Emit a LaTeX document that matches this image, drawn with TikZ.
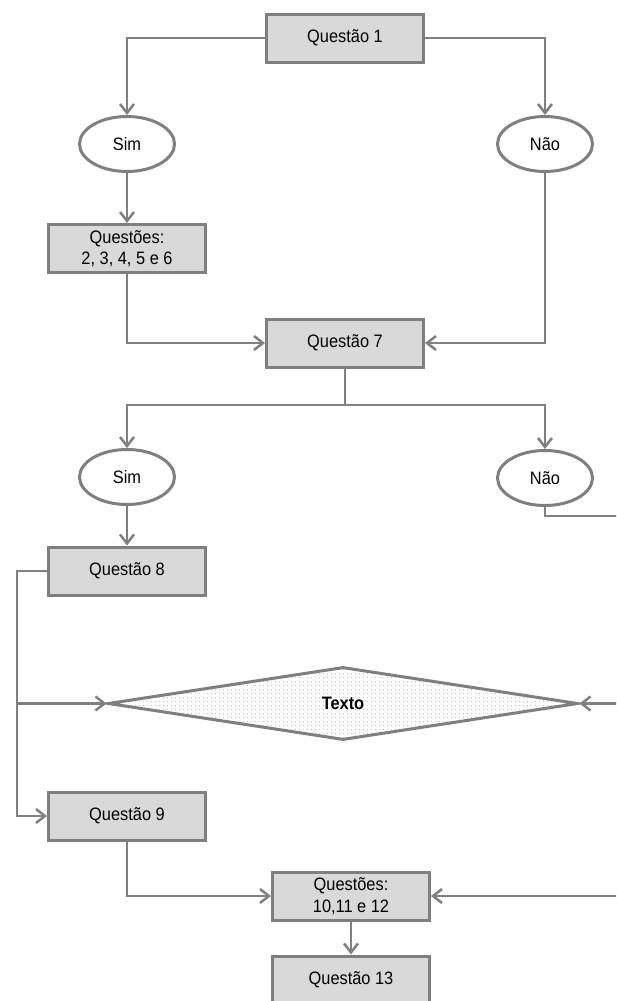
\documentclass[tikz,border=0pt]{standalone}
\usepackage{fontspec}
\setmainfont{Liberation Sans}[FakeStretch=0.91]
\usetikzlibrary{arrows.meta,shapes.geometric,patterns.meta}
\definecolor{boxline}{HTML}{7F7F7F}
\definecolor{boxfill}{HTML}{D9D9D9}
\definecolor{conn}{HTML}{808080}
\begin{document}
\begin{tikzpicture}[x=1pt,y=-1pt,
  box/.style={draw=boxline,fill=boxfill,line width=3pt,minimum width=157pt,minimum height=48pt,inner sep=0pt,align=center,font=\fontsize{18}{21.5}\selectfont},
  oval/.style={ellipse,draw=boxline,fill=white,line width=3pt,minimum width=95pt,minimum height=55pt,inner sep=0pt,font=\fontsize{18}{21}\selectfont},
  conn/.style={draw=conn,line width=2.5pt},
  arr/.style={conn,-{Straight Barb[length=9pt,width=14pt,line width=2.5pt]}},
  dia/.style={diamond,draw=boxline,line width=3pt,aspect=6.44,minimum width=470pt,minimum height=73pt,inner sep=0pt,preaction={fill=white},pattern={Dots[distance=4pt,radius=0.55pt]},pattern color=gray!85,font=\bfseries\fontsize{18}{21}\selectfont}
]
\clip (0,0) rectangle (616,1001);
\fill[white] (0,0) rectangle (616,1001);

\node[box] (q1) at (345,38) {Questão 1};
\node[oval] (sim1) at (127,144) {Sim};
\node[oval] (nao1) at (545,144) {Não};
\node[box] (q26) at (127,248.5) {Questões:\\2, 3, 4, 5 e 6};
\node[box] (q7) at (345,343) {Questão 7};
\node[oval] (sim2) at (127,477) {Sim};
\node[oval] (nao2) at (545,478) {Não};
\node[box] (q8) at (127,571) {Questão 8};
\node[dia] (tx) at (343,703.5) {Texto};
\node[box] (q9) at (127,816) {Questão 9};
\node[box] (q10) at (351,896) {Questões:\\10,11 e 12};
\node[box] (q13) at (351,980) {Questão 13};

\coordinate (e1) at (620,516);
\coordinate (e2) at (620,703.5);
\coordinate (e3) at (620,896);
\coordinate (split) at (345,405);

\draw[arr] (q1.west) -| (sim1.north);
\draw[arr] (q1.east) -| (nao1.north);
\draw[arr] (sim1.south) -- (q26.north);
\draw[arr] (q26.south) |- (q7.west);
\draw[arr] (nao1.south) |- (q7.east);
\draw[conn] (q7.south) -- (split);
\draw[arr] (split) -| (sim2.north);
\draw[arr] (split) -| (nao2.north);
\draw[arr] (sim2.south) -- (q8.north);
\draw[conn] (nao2.south) |- (e1);
\draw[arr] (q8.west) -| (17,700) |- (q9.west);
\draw[arr] (17,703.5) -- (tx.west);
\draw[arr] (e2) -- (tx.east);
\draw[arr] (q9.south) |- (q10.west);
\draw[arr] (e3) -- (q10.east);
\draw[arr] (q10.south) -- (q13.north);
\end{tikzpicture}
\end{document}
